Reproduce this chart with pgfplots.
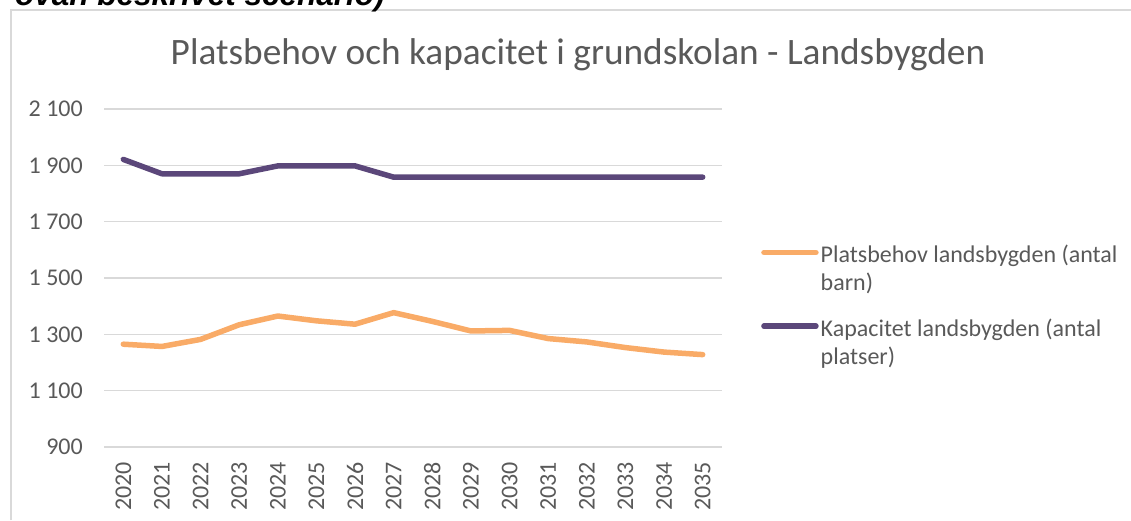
\documentclass[border=0pt]{standalone}
\usepackage{pgfplots}
\pgfplotsset{compat=1.18}
\usepackage{fontspec}
\setmainfont{Carlito}
\newfontfamily\arialf{Liberation Sans}

\definecolor{txt}{HTML}{595959}
\definecolor{gridc}{HTML}{D9D9D9}
\definecolor{behov}{HTML}{F9AB67}
\definecolor{kap}{HTML}{5B477A}

\begin{document}
\begin{tikzpicture}[x=1pt,y=1pt]
\useasboundingbox (0,0) rectangle (1131,520);
% chart frame
\draw[gridc, line width=1.5pt] (11,0) -- (11,510) -- (1131,510);
% caption line cut off by the page
\node[anchor=base west, inner sep=0pt, font=\arialf\bfseries\itshape\fontsize{31.5}{36}\selectfont]
  at (15,514) {ovan beskrivet scenario)};
\node[txt, font=\fontsize{37.3}{44}\selectfont] at (578,465)
  {Platsbehov och kapacitet i grundskolan - Landsbygden};

\begin{axis}[
    at={(104pt,73pt)}, anchor=south west,
    scale only axis, width=618pt, height=338pt,
    xmin=-0.5, xmax=15.5,
    ymin=900, ymax=2100,
    xtick={0,...,15},
    xticklabels={2020,2021,2022,2023,2024,2025,2026,2027,2028,2029,2030,2031,2032,2033,2034,2035},
    ytick={900,1100,1300,1500,1700,1900,2100},
    yticklabels={900,1 100,1 300,1 500,1 700,1 900,2 100},
    axis line style={draw=none},
    major tick length=0pt,
    ymajorgrids=true,
    grid style={gridc, line width=1.5pt},
    tick label style={txt, font=\fontsize{24}{28}\selectfont, inner sep=0pt},
    xticklabel style={rotate=90, anchor=east},
    yticklabel style={anchor=east},
    xticklabel shift=15pt,
    yticklabel shift=21pt,
    legend style={at={(1.0631,0.6048)}, anchor=north west, draw=none, fill=none,
        inner sep=0pt, column sep=2pt,
        font=\fontsize{24}{28}\selectfont, text=txt,
        nodes={inner sep=0pt}},
    legend cell align=left,
    legend image code/.code={
        \draw[#1, line cap=round] (0pt,0.8pt) -- (52pt,0.8pt);
        \path (0pt,-60.4pt);
    },
]
\addplot[behov, line width=5.5pt, line join=round, line cap=round] coordinates {
    (0,1265) (1,1257) (2,1282) (3,1334) (4,1365) (5,1348) (6,1336) (7,1377)
    (8,1346) (9,1312) (10,1314) (11,1285) (12,1273) (13,1253) (14,1237) (15,1228)
};
\addlegendentry{\begin{tabular}[t]{@{}l@{}}Platsbehov landsbygden (antal\\barn)\end{tabular}}
\addplot[kap, line width=5.5pt, line join=round, line cap=round] coordinates {
    (0,1921) (1,1870) (2,1870) (3,1870) (4,1898) (5,1898) (6,1898) (7,1858)
    (8,1858) (9,1858) (10,1858) (11,1858) (12,1858) (13,1858) (14,1858) (15,1858)
};
\addlegendentry{\begin{tabular}[t]{@{}l@{}}Kapacitet landsbygden (antal\\platser)\end{tabular}}
\end{axis}
\end{tikzpicture}
\end{document}
